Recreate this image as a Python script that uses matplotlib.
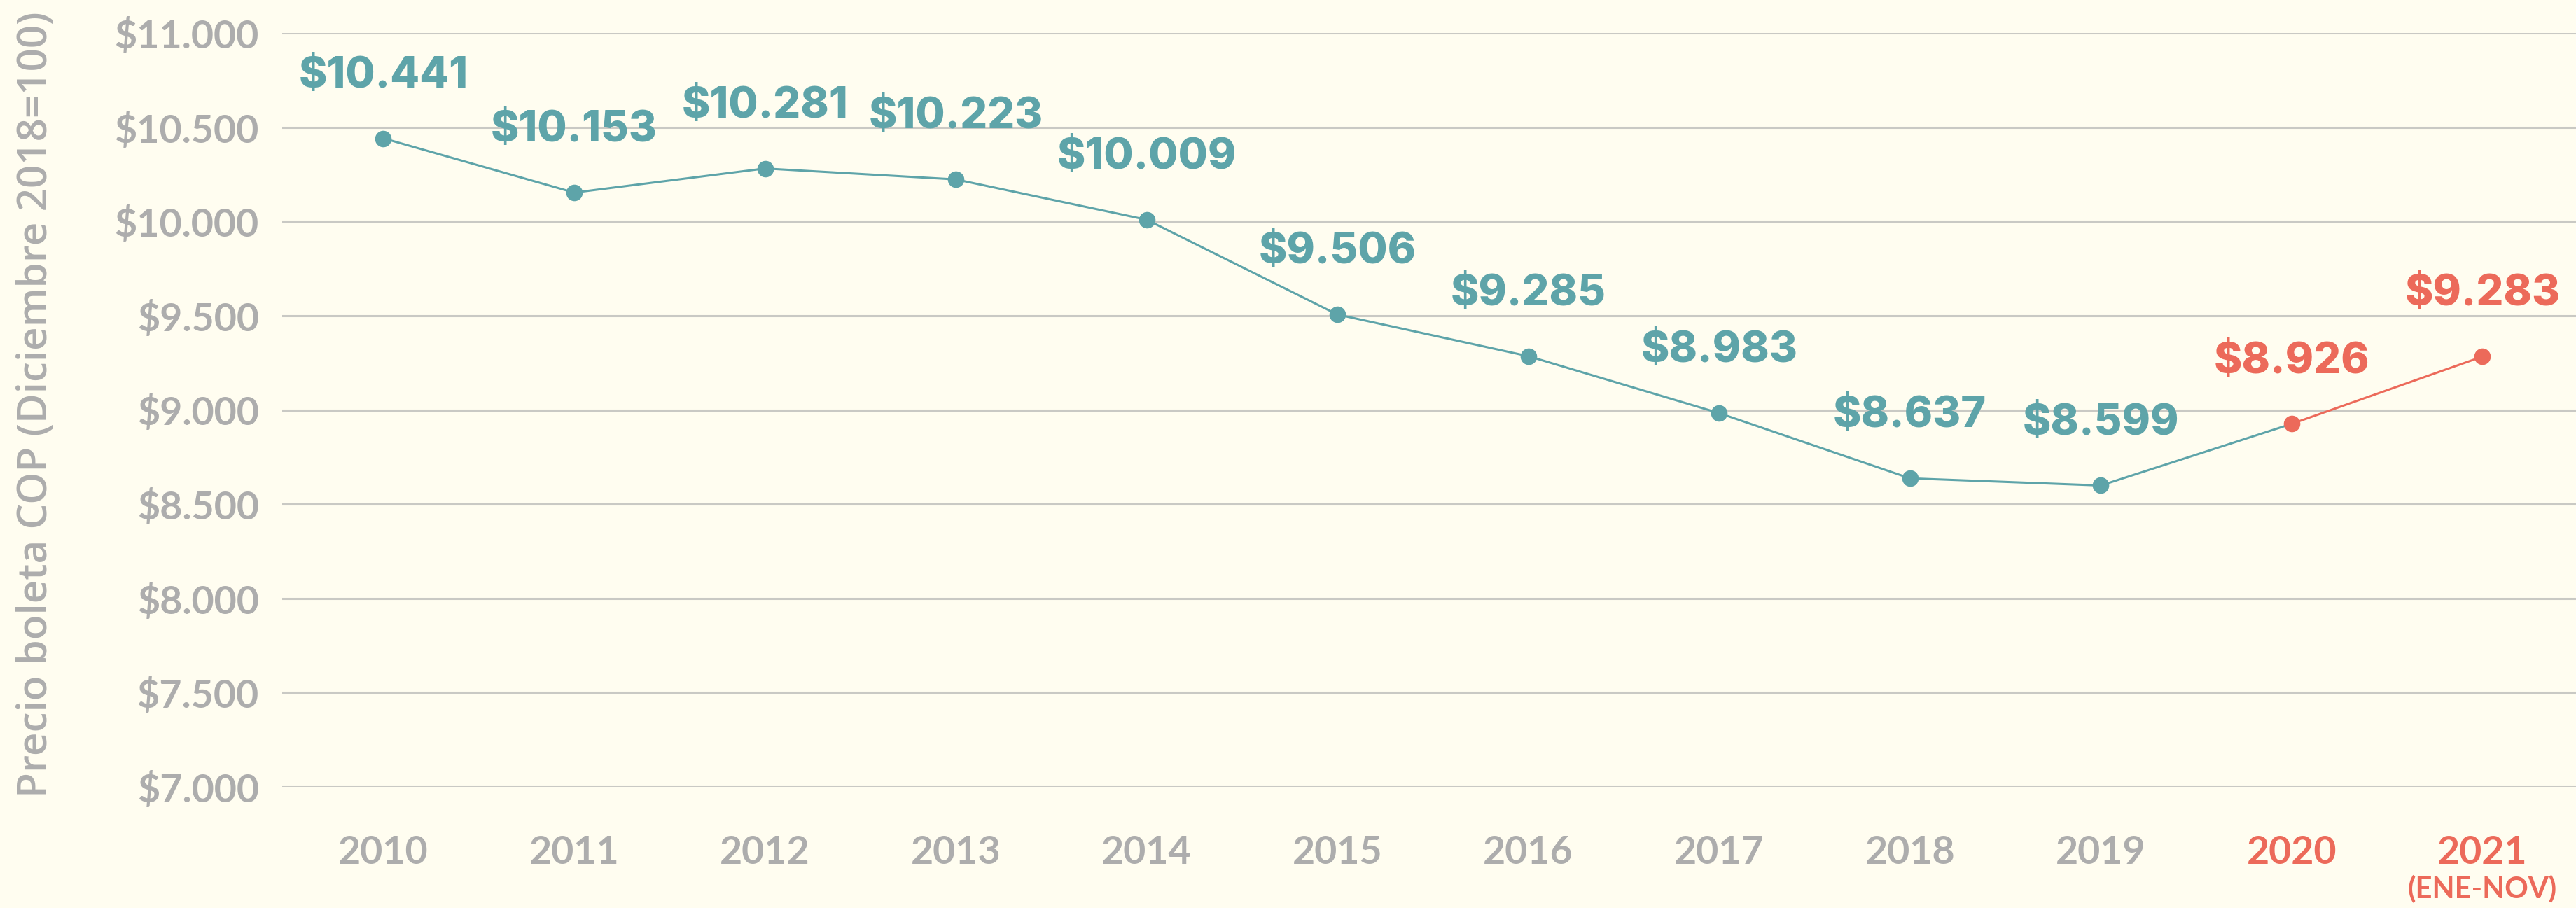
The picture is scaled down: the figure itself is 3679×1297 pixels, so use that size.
import matplotlib
matplotlib.use("Agg")
import matplotlib.pyplot as plt
from matplotlib.ticker import FuncFormatter

# data
years = ["2010", "2011", "2012", "2013", "2014", "2015",
         "2016", "2017", "2018", "2019", "2020", "2021"]
precio = [10441, 10153, 10281, 10223, 10009, 9506,
          9285, 8983, 8637, 8599, 8926, 9283]
n_hist = 10  # 2010-2019 in teal, 2020-2021 highlighted
nota_2021 = "(ENE-NOV)"
y_label = "Precio boleta COP (Diciembre 2018=100)"
y_ticks = [7000, 7500, 8000, 8500, 9000, 9500, 10000, 10500, 11000]

TEAL = "#5ea4a9"
RED = "#ec6a5a"
GREY = "#adadad"
BG = "#fffdf0"
GRID = "#c9c9c4"


def pesos(v):
    return "${:,.0f}".format(v).replace(",", ".")


fig = plt.figure(figsize=(36.79, 12.97), dpi=100, facecolor=BG)
ax = fig.add_axes([403 / 3679, 1 - 1124 / 1297, 1 - 403 / 3679, (1124 - 47) / 1297])
ax.set_facecolor(BG)

x = list(range(len(years)))

# lines
ax.plot(x[:n_hist + 1], precio[:n_hist + 1], color=TEAL, lw=2.2, zorder=3)
ax.plot(x[n_hist:], precio[n_hist:], color=RED, lw=2.2, zorder=3)
ax.scatter(x[:n_hist], precio[:n_hist], s=17 ** 2, color=TEAL, zorder=4, lw=0)
ax.scatter(x[n_hist:], precio[n_hist:], s=17 ** 2, color=RED, zorder=4, lw=0)

for i, v in enumerate(precio):
    c = TEAL if i < n_hist else RED
    ax.annotate(pesos(v), (i, v), xytext=(0, 64), textcoords="offset points",
                ha="center", va="center", fontsize=44, color=c,
                family="Inter", fontweight="heavy", clip_on=False)

ax.set_xlim(-0.53, 11.49)
ax.set_ylim(7000, 11000)
ax.set_yticks(y_ticks)
ax.yaxis.set_major_formatter(FuncFormatter(lambda v, p: pesos(v)))
ax.set_xticks(x)
ax.set_xticklabels(years)
ax.tick_params(axis="both", length=0, labelsize=40, labelcolor=GREY)
ax.tick_params(axis="y", pad=24)
ax.tick_params(axis="x", pad=50)
for lab in ax.get_xticklabels() + ax.get_yticklabels():
    lab.set_family("Lato")
    lab.set_fontweight("bold")
for lab in ax.get_xticklabels()[n_hist:]:
    lab.set_color(RED)

ax.annotate(nota_2021, (x[-1], 0), xycoords=("data", "axes fraction"),
            xytext=(0, -105), textcoords="offset points", ha="center", va="center",
            fontsize=30, color=RED, family="Lato", fontweight="bold",
            annotation_clip=False)

ax.grid(axis="y", color=GRID, lw=2.2)
ax.set_axisbelow(True)
for s in ax.spines.values():
    s.set_visible(False)

fig.text(52 / 3679, 1 - 578 / 1297, y_label, rotation=90, ha="center", va="center",
         fontsize=42, color=GREY, family="Open Sans", fontweight="semibold")

fig.savefig("out.png", dpi=100, facecolor=BG)
